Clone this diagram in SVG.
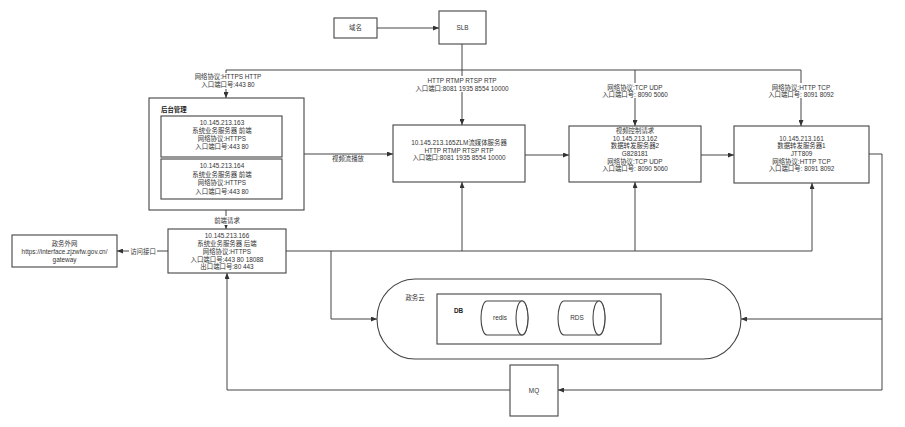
<svg xmlns="http://www.w3.org/2000/svg" width="905" height="427" viewBox="0 0 905 427">
<defs>
<marker id="arr" markerWidth="6" markerHeight="5" refX="6" refY="2.5" orient="auto" markerUnits="userSpaceOnUse">
<path d="M0,0 L6,2.5 L0,5 z" fill="#333"/>
</marker>
<style>
.box{fill:#fff;stroke:#444;stroke-width:1.1}
.ln{fill:none;stroke:#444;stroke-width:1}
.t{font-family:"Liberation Sans","Noto Sans CJK SC",sans-serif;font-size:6.4px;fill:#333;text-anchor:middle}
.b{font-family:"Liberation Sans","Noto Sans CJK SC",sans-serif;font-size:6.4px;fill:#222;font-weight:bold}
.bg{fill:#fff;stroke:none}
</style>
</defs>
<rect width="905" height="427" fill="#fff"/>

<g id="connectors">
<path class="ln" d="M377,28 H439" marker-end="url(#arr)"/>
<path class="ln" d="M462,44 V125" marker-end="url(#arr)"/>
<path class="ln" d="M226,70 H801"/>
<path class="ln" d="M226,70 V98" marker-end="url(#arr)"/>
<path class="ln" d="M635,70 V126" marker-end="url(#arr)"/>
<path class="ln" d="M801,70 V126" marker-end="url(#arr)"/>
<path class="ln" d="M304,154 H393" marker-end="url(#arr)"/>
<path class="ln" d="M525,155 H569" marker-end="url(#arr)"/>
<path class="ln" d="M701,155 H734" marker-end="url(#arr)"/>
<path class="ln" d="M226,210 V229" marker-end="url(#arr)"/>
<path class="ln" d="M168,251 H117" marker-end="url(#arr)"/>
<path class="ln" d="M286,251 H812 V183" marker-end="url(#arr)"/>
<path class="ln" d="M462,251 V182" marker-end="url(#arr)"/>
<path class="ln" d="M635,251 V182" marker-end="url(#arr)"/>
<path class="ln" d="M331,251 V319 H377" marker-end="url(#arr)"/>
<path class="ln" d="M869,154 H882 V390 H558" marker-end="url(#arr)"/>
<path class="ln" d="M882,319 H741" marker-end="url(#arr)"/>
<path class="ln" d="M510,390 H227 V273" marker-end="url(#arr)"/>

<rect class="bg" x="198" y="73" width="60" height="16"/>
<text class="t" x="228" y="79">网络协议:HTTPS HTTP</text>
<text class="t" x="228" y="87">入口端口号:443 80</text>

<rect class="bg" x="411" y="76" width="102" height="16"/>
<text class="t" x="462" y="82.5">HTTP RTMP RTSP RTP</text>
<text class="t" x="462" y="91">入口端口:8081 1935 8554 10000</text>

<rect class="bg" x="601" y="83" width="68" height="15"/>
<text class="t" x="635" y="89.5">网络协议:TCP UDP</text>
<text class="t" x="635" y="97">入口端口号: 8090 5060</text>

<rect class="bg" x="767" y="83" width="68" height="15"/>
<text class="t" x="801" y="89.5">网络协议:HTTP TCP</text>
<text class="t" x="801" y="97">入口端口号: 8091 8092</text>

<text class="t" x="348" y="161">视频流播放</text>

<rect class="bg" x="213" y="216" width="28" height="9"/>
<text class="t" x="227" y="223">前端请求</text>

<rect class="bg" x="129" y="247" width="28" height="9"/>
<text class="t" x="143" y="253.5">访问接口</text>
</g>

<g id="domain">
<rect class="box" x="334" y="18" width="43" height="20"/>
<text class="t" x="355.5" y="30.2">域名</text>
</g>

<g id="slb">
<rect class="box" x="439" y="11" width="47" height="33"/>
<text class="t" x="462.5" y="30.2">SLB</text>
</g>

<g id="backoffice">
<rect class="box" x="149" y="98" width="155" height="112"/>
<text class="b" x="161" y="112">后台管理</text>
<g id="server163">
<rect class="box" x="161" y="116" width="121" height="41"/>
<text class="t" x="222" y="125">10.145.213.163</text>
<text class="t" x="222" y="132.5">系统业务服务器 前端</text>
<text class="t" x="222" y="140.5">网络协议:HTTPS</text>
<text class="t" x="222" y="148.5">入口端口号:443 80</text>
</g>
<g id="server164">
<rect class="box" x="161" y="159" width="121" height="40"/>
<text class="t" x="222" y="168">10.145.213.164</text>
<text class="t" x="222" y="176.5">系统业务服务器 前端</text>
<text class="t" x="222" y="185">网络协议:HTTPS</text>
<text class="t" x="222" y="193.5">入口端口号:443 80</text>
</g>
</g>

<g id="server165">
<rect class="box" x="393" y="125" width="132" height="57"/>
<text class="t" x="459" y="145.2">10.145.213.165ZLM流媒体服务器</text>
<text class="t" x="459" y="152.5">HTTP RTMP RTSP RTP</text>
<text class="t" x="459" y="160.2">入口端口:8081 1935 8554 10000</text>
</g>

<g id="server162">
<rect class="box" x="569" y="126" width="132" height="56"/>
<text class="t" x="635" y="133.2">视频控制请求</text>
<text class="t" x="635" y="140.5">10.145.213.162</text>
<text class="t" x="635" y="148.2">数据转发服务器2</text>
<text class="t" x="635" y="156">G828181</text>
<text class="t" x="635" y="163.5">网络协议:TCP UDP</text>
<text class="t" x="635" y="171">入口端口号: 8090 5060</text>
</g>

<g id="server161">
<rect class="box" x="734" y="126" width="135" height="57"/>
<text class="t" x="801.5" y="140.5">10.145.213.161</text>
<text class="t" x="801.5" y="148.2">数据转发服务器1</text>
<text class="t" x="801.5" y="156">JTT809</text>
<text class="t" x="801.5" y="163.5">网络协议:HTTP TCP</text>
<text class="t" x="801.5" y="171.2">入口端口号: 8091 8092</text>
</g>

<g id="server166">
<rect class="box" x="168" y="229" width="118" height="44"/>
<text class="t" x="227" y="238.2">10.145.213.166</text>
<text class="t" x="227" y="246">系统业务服务器 后端</text>
<text class="t" x="227" y="253.8">网络协议:HTTPS</text>
<text class="t" x="227" y="261.5">入口端口号:443 80 18088</text>
<text class="t" x="227" y="269">出口端口号:80 443</text>
</g>

<g id="external">
<rect class="box" x="12" y="235" width="105" height="32"/>
<text class="t" x="64.5" y="246.2">政务外网</text>
<text class="t" x="64.5" y="254">https://interface.zjzwfw.gov.cn/</text>
<text class="t" x="64.5" y="261.5">gateway</text>
</g>

<g id="cloud">
<rect class="box" x="377" y="279" width="364" height="80" rx="38" ry="40"/>
<text class="t" x="415" y="300">政务云</text>
<g id="db">
<rect class="box" x="437" y="294" width="224" height="50"/>
<text class="b" x="454" y="313">DB</text>
<g id="redis">
<path class="box" d="M487,301 H522 A6,17 0 0 1 522,335 H487 A6,17 0 0 1 487,301 Z"/>
<ellipse class="box" cx="522" cy="318" rx="6" ry="17"/>
<text class="t" x="500" y="320.2">redis</text>
</g>
<g id="rds">
<path class="box" d="M564,301 H599 A6,17 0 0 1 599,335 H564 A6,17 0 0 1 564,301 Z"/>
<ellipse class="box" cx="599" cy="318" rx="6" ry="17"/>
<text class="t" x="577" y="320.2">RDS</text>
</g>
</g>
</g>

<g id="mq">
<rect class="box" x="510" y="365" width="48" height="51"/>
<text class="t" x="534" y="393">MQ</text>
</g>
</svg>
